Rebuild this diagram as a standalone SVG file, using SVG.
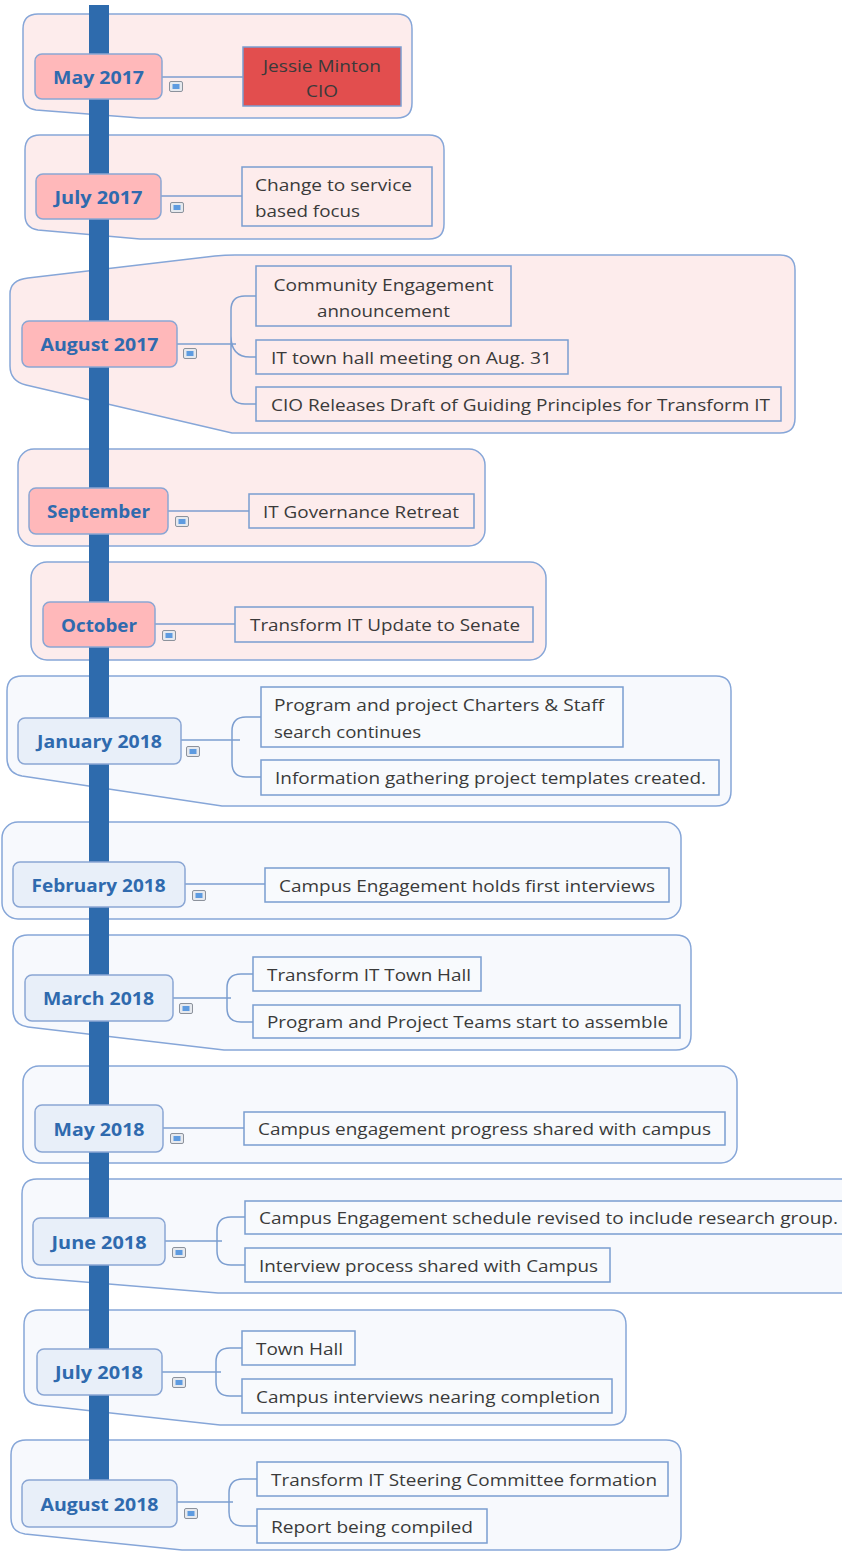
<svg xmlns="http://www.w3.org/2000/svg" xmlns:xlink="http://www.w3.org/1999/xlink" width="842" height="1552" viewBox="0 0 842 1552">
<defs>
<style>
.b17{fill:#FDECEC;stroke:#86A6D8;stroke-width:1.5}
.b18{fill:#F7F9FD;stroke:#86A6D8;stroke-width:1.5}
.l17{fill:#FFB8BA;stroke:#8AA6D4;stroke-width:1.5}
.l18{fill:#E8EFF9;stroke:#8AA6D4;stroke-width:1.5}
.lt{font-family:"Open Sans","Liberation Sans",sans-serif;font-weight:700;font-size:17.5px;fill:#2F6AAE;text-anchor:middle;dominant-baseline:central}
.c17{fill:#FDECEC;stroke:#7A9DD0;stroke-width:1.5}
.c18{fill:#F8FAFD;stroke:#7A9DD0;stroke-width:1.5}
.ct{font-family:"Open Sans","Liberation Sans",sans-serif;font-size:17px;fill:#3A3A3A;dominant-baseline:central}
.cm{text-anchor:middle}
.conn{fill:none;stroke:#7C9ED0;stroke-width:1.5}
.bar{fill:#2E6BAD}
</style>
<symbol id="note" viewBox="0 0 14 11" width="14" height="11">
<rect x="0.5" y="0.5" width="13" height="10" rx="1.5" fill="#E6E9EE" stroke="#8C929C"/>
<rect x="3.5" y="3" width="7" height="5" fill="#5E9BE0"/>
</symbol>
</defs>

<g id="boundaries">
<path class="b17" d="M38,14 H397 Q412,14 412,29 V103 Q412,118 397,118 H140 L36,110 Q23,108 23,95 V29 Q23,14 38,14 Z"/>
<path class="b17" d="M40,135 H429 Q444,135 444,150 V224 Q444,239 429,239 H140 L38,230 Q25,228 25,215 V150 Q25,135 40,135 Z"/>
<path class="b17" d="M28,278 L215,256 Q225,255 235,255 H780 Q795,255 795,270 V418 Q795,433 780,433 H232 L26,385 Q10,381 10,366 V294 Q10,280 28,278 Z"/>
<rect class="b17" x="18" y="449" width="467" height="97" rx="16"/>
<rect class="b17" x="31" y="562" width="515" height="98" rx="16"/>
<path class="b18" d="M22,676 H716 Q731,676 731,691 V791 Q731,806 716,806 H222 L22,776 Q7,773 7,758 V691 Q7,676 22,676 Z"/>
<rect class="b18" x="2" y="822" width="679" height="97" rx="16"/>
<path class="b18" d="M28,935 H676 Q691,935 691,950 V1035 Q691,1050 676,1050 H224 L28,1027 Q13,1025 13,1010 V950 Q13,935 28,935 Z"/>
<rect class="b18" x="23" y="1066" width="714" height="97" rx="16"/>
<path class="b18" d="M37,1179 H860 V1293 H218 L36,1278 Q22,1276 22,1262 V1194 Q22,1179 37,1179 Z"/>
<path class="b18" d="M39,1310 H611 Q626,1310 626,1325 V1410 Q626,1425 611,1425 H220 L38,1405 Q24,1403 24,1389 V1325 Q24,1310 39,1310 Z"/>
<path class="b18" d="M26,1440 H666 Q681,1440 681,1455 V1536 Q681,1550 666,1550 H182 L25,1534 Q11,1532 11,1518 V1455 Q11,1440 26,1440 Z"/>
</g>

<rect id="timeline" class="bar" x="89" y="5" width="20" height="1475"/>

<g id="connectors">
<path class="conn" d="M162,77 H243"/>
<path class="conn" d="M161,196 H242"/>
<path class="conn" d="M177,344 H236 M256,296 H245 Q231,296 231,310 V390 Q231,404 245,404 H256 M231,336 Q231,357 250,357 H256"/>
<path class="conn" d="M168,511 H249"/>
<path class="conn" d="M155,624 H235"/>
<path class="conn" d="M181,740 H240 M261,717 H246 Q232,717 232,731 V763 Q232,777 246,777 H261"/>
<path class="conn" d="M185,884 H265"/>
<path class="conn" d="M173,998 H231 M253,974 H241 Q227,974 227,988 V1008 Q227,1022 241,1022 H253"/>
<path class="conn" d="M163,1128 H244"/>
<path class="conn" d="M165,1241 H222 M245,1217 H231 Q217,1217 217,1231 V1251 Q217,1265 231,1265 H245"/>
<path class="conn" d="M162,1372 H221 M242,1348 H230 Q216,1348 216,1362 V1382 Q216,1396 230,1396 H242"/>
<path class="conn" d="M177,1502 H233 M257,1479 H243 Q229,1479 229,1493 V1512 Q229,1526 243,1526 H257"/>
</g>

<g id="may2017">
<rect class="l17" x="35" y="54" width="127" height="45" rx="7"/>
<text class="lt" x="98.5" y="77" textLength="91" lengthAdjust="spacingAndGlyphs">May 2017</text>
<use href="#note" x="169" y="81" width="14" height="11"/>
</g>
<g id="jessie">
<rect x="243" y="47" width="158" height="59" fill="#E24E4E" stroke="#7A9DD0" stroke-width="1.5"/>
<text class="ct cm" x="322" y="65" textLength="118" lengthAdjust="spacingAndGlyphs">Jessie Minton</text>
<text class="ct cm" x="322" y="90" textLength="32" lengthAdjust="spacingAndGlyphs">CIO</text>
</g>

<g id="july2017">
<rect class="l17" x="36" y="174" width="125" height="45" rx="7"/>
<text class="lt" x="98.5" y="197" textLength="88" lengthAdjust="spacingAndGlyphs">July 2017</text>
<use href="#note" x="170" y="202" width="14" height="11"/>
</g>
<g id="service">
<rect class="c17" x="242" y="167" width="190" height="59"/>
<text class="ct" x="255" y="184" textLength="157" lengthAdjust="spacingAndGlyphs">Change to service</text>
<text class="ct" x="255" y="210" textLength="105" lengthAdjust="spacingAndGlyphs">based focus</text>
</g>

<g id="aug2017">
<rect class="l17" x="22" y="321" width="155" height="46" rx="7"/>
<text class="lt" x="99.5" y="344" textLength="118" lengthAdjust="spacingAndGlyphs">August 2017</text>
<use href="#note" x="183" y="348" width="14" height="11"/>
</g>
<g id="community">
<rect class="c17" x="256" y="266" width="255" height="60"/>
<text class="ct cm" x="383.5" y="284" textLength="220" lengthAdjust="spacingAndGlyphs">Community Engagement</text>
<text class="ct cm" x="383.5" y="310" textLength="133" lengthAdjust="spacingAndGlyphs">announcement</text>
</g>
<g id="townhall-aug">
<rect class="c17" x="256" y="340" width="312" height="34"/>
<text class="ct" x="271" y="357" textLength="281" lengthAdjust="spacingAndGlyphs">IT town hall meeting on Aug. 31</text>
</g>
<g id="cio-draft">
<rect class="c17" x="256" y="387" width="525" height="34"/>
<text class="ct" x="271" y="404" textLength="499" lengthAdjust="spacingAndGlyphs">CIO Releases Draft of Guiding Principles for Transform IT</text>
</g>

<g id="september">
<rect class="l17" x="29" y="488" width="139" height="46" rx="7"/>
<text class="lt" x="98.5" y="511" textLength="103" lengthAdjust="spacingAndGlyphs">September</text>
<use href="#note" x="175" y="516" width="14" height="11"/>
</g>
<g id="retreat">
<rect class="c17" x="249" y="494" width="225" height="34"/>
<text class="ct" x="263" y="511" textLength="196" lengthAdjust="spacingAndGlyphs">IT Governance Retreat</text>
</g>

<g id="october">
<rect class="l17" x="43" y="602" width="112" height="45" rx="7"/>
<text class="lt" x="99" y="624.5" textLength="76" lengthAdjust="spacingAndGlyphs">October</text>
<use href="#note" x="162" y="630" width="14" height="11"/>
</g>
<g id="senate">
<rect class="c17" x="235" y="607" width="298" height="35"/>
<text class="ct" x="250" y="624.5" textLength="270" lengthAdjust="spacingAndGlyphs">Transform IT Update to Senate</text>
</g>

<g id="jan2018">
<rect class="l18" x="18" y="718" width="163" height="46" rx="7"/>
<text class="lt" x="99.5" y="741" textLength="125" lengthAdjust="spacingAndGlyphs">January 2018</text>
<use href="#note" x="186" y="746" width="14" height="11"/>
</g>
<g id="charters">
<rect class="c18" x="261" y="687" width="362" height="60"/>
<text class="ct" x="274" y="704" textLength="330" lengthAdjust="spacingAndGlyphs">Program and project Charters &amp; Staff</text>
<text class="ct" x="274" y="731" textLength="147" lengthAdjust="spacingAndGlyphs">search continues</text>
</g>
<g id="templates">
<rect class="c18" x="261" y="760" width="458" height="35"/>
<text class="ct" x="275" y="777.5" textLength="431" lengthAdjust="spacingAndGlyphs">Information gathering project templates created.</text>
</g>

<g id="feb2018">
<rect class="l18" x="13" y="862" width="172" height="45" rx="7"/>
<text class="lt" x="98.5" y="885" textLength="134" lengthAdjust="spacingAndGlyphs">February 2018</text>
<use href="#note" x="192" y="890" width="14" height="11"/>
</g>
<g id="interviews">
<rect class="c18" x="265" y="868" width="404" height="34"/>
<text class="ct" x="279" y="885" textLength="376" lengthAdjust="spacingAndGlyphs">Campus Engagement holds first interviews</text>
</g>

<g id="mar2018">
<rect class="l18" x="25" y="975" width="148" height="46" rx="7"/>
<text class="lt" x="98.5" y="998" textLength="111" lengthAdjust="spacingAndGlyphs">March 2018</text>
<use href="#note" x="179" y="1003" width="14" height="11"/>
</g>
<g id="townhall-mar">
<rect class="c18" x="253" y="957" width="228" height="34"/>
<text class="ct" x="267" y="974" textLength="204" lengthAdjust="spacingAndGlyphs">Transform IT Town Hall</text>
</g>
<g id="teams">
<rect class="c18" x="253" y="1005" width="427" height="33"/>
<text class="ct" x="267" y="1021.5" textLength="401" lengthAdjust="spacingAndGlyphs">Program and Project Teams start to assemble</text>
</g>

<g id="may2018">
<rect class="l18" x="35" y="1105" width="128" height="47" rx="7"/>
<text class="lt" x="99" y="1128.5" textLength="91" lengthAdjust="spacingAndGlyphs">May 2018</text>
<use href="#note" x="170" y="1133" width="14" height="11"/>
</g>
<g id="progress">
<rect class="c18" x="244" y="1112" width="481" height="33"/>
<text class="ct" x="258" y="1128.5" textLength="453" lengthAdjust="spacingAndGlyphs">Campus engagement progress shared with campus</text>
</g>

<g id="jun2018">
<rect class="l18" x="33" y="1218" width="132" height="47" rx="7"/>
<text class="lt" x="99" y="1241.5" textLength="95" lengthAdjust="spacingAndGlyphs">June 2018</text>
<use href="#note" x="172" y="1247" width="14" height="11"/>
</g>
<g id="schedule">
<rect class="c18" x="245" y="1201" width="610" height="33"/>
<text class="ct" x="259" y="1217.5" textLength="579" lengthAdjust="spacingAndGlyphs">Campus Engagement schedule revised to include research group.</text>
</g>
<g id="process">
<rect class="c18" x="245" y="1248" width="365" height="34"/>
<text class="ct" x="259" y="1265" textLength="339" lengthAdjust="spacingAndGlyphs">Interview process shared with Campus</text>
</g>

<g id="jul2018">
<rect class="l18" x="37" y="1349" width="125" height="46" rx="7"/>
<text class="lt" x="99" y="1372" textLength="88" lengthAdjust="spacingAndGlyphs">July 2018</text>
<use href="#note" x="172" y="1377" width="14" height="11"/>
</g>
<g id="townhall-jul">
<rect class="c18" x="242" y="1331" width="113" height="34"/>
<text class="ct" x="256" y="1348" textLength="87" lengthAdjust="spacingAndGlyphs">Town Hall</text>
</g>
<g id="nearing">
<rect class="c18" x="242" y="1379" width="370" height="34"/>
<text class="ct" x="256" y="1396" textLength="344" lengthAdjust="spacingAndGlyphs">Campus interviews nearing completion</text>
</g>

<g id="aug2018">
<rect class="l18" x="22" y="1480" width="155" height="47" rx="7"/>
<text class="lt" x="99.5" y="1503.5" textLength="118" lengthAdjust="spacingAndGlyphs">August 2018</text>
<use href="#note" x="184" y="1508" width="14" height="11"/>
</g>
<g id="steering">
<rect class="c18" x="257" y="1462" width="411" height="34"/>
<text class="ct" x="271" y="1479" textLength="386" lengthAdjust="spacingAndGlyphs">Transform IT Steering Committee formation</text>
</g>
<g id="report">
<rect class="c18" x="257" y="1509" width="230" height="34"/>
<text class="ct" x="271" y="1526" textLength="202" lengthAdjust="spacingAndGlyphs">Report being compiled</text>
</g>
</svg>
